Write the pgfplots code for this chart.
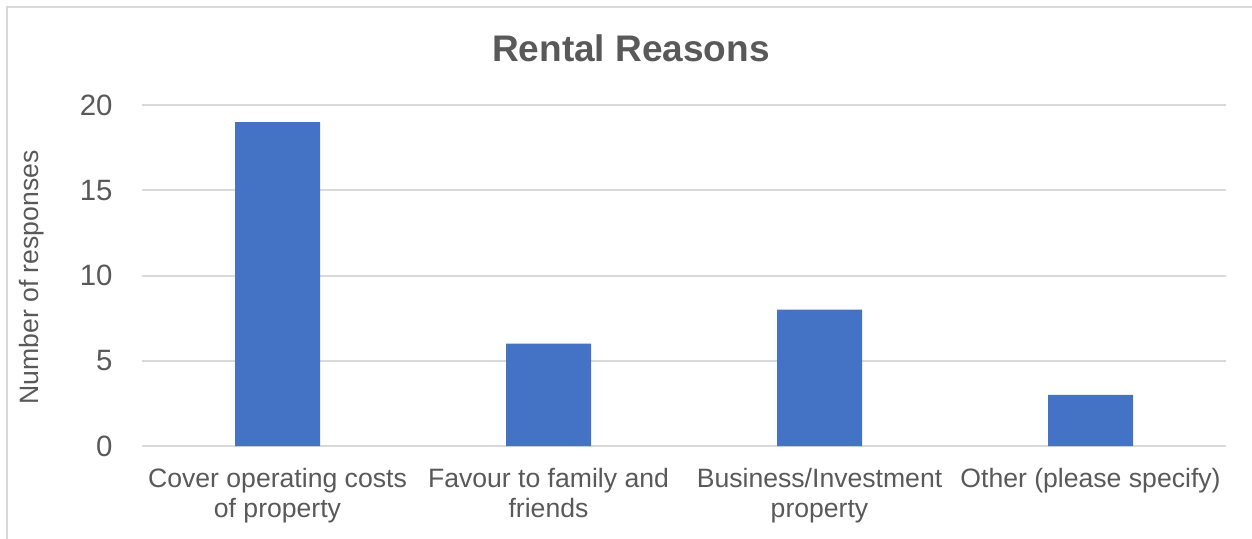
\documentclass[border=0pt]{standalone}
\usepackage{pgfplots}
\pgfplotsset{compat=1.18}
\usepackage{fontspec}
\setmainfont{Liberation Sans}
\definecolor{barblue}{HTML}{4472C4}
\definecolor{txt}{HTML}{595959}
\definecolor{gridc}{HTML}{D9D9D9}
\begin{document}
\begin{tikzpicture}
\useasboundingbox (0,0) rectangle (626pt,269pt);
\draw[gridc, line width=0.7pt] (3.5pt,-2pt) -- (3.5pt,265.5pt) -- (630pt,265.5pt);
\begin{axis}[
  at={(71pt,46pt)}, anchor=south west,
  scale only axis, width=542pt, height=170.5pt,
  ybar, bar width=42.5pt,
  xmin=-0.5, xmax=3.5, ymin=0, ymax=20,
  xtick={0,1,2,3},
  xticklabels={{Cover operating costs\\of property},{Favour to family and\\friends},{Business/Investment\\property},{Other (please specify)}},
  ytick={0,5,10,15,20},
  axis line style={draw=none},
  tick style={draw=none},
  ymajorgrids, grid style={gridc, line width=1pt},
  xticklabel style={align=center, font=\fontsize{13.3}{15}\selectfont, text=txt, inner sep=0pt, yshift=-6.5pt},
  yticklabel style={font=\fontsize{14.7}{16}\selectfont, text=txt, inner sep=0pt, xshift=-14.5pt},
  /pgf/number format/assume math mode=true,
]
\addplot[fill=barblue, draw=none] coordinates {(0,19) (1,6) (2,8) (3,3)};
\end{axis}
\node[text=txt, font=\fontsize{18.5}{20}\selectfont\bfseries] at (315.5pt,245pt) {Rental Reasons};
\node[text=txt, font=\fontsize{13.3}{15}\selectfont, rotate=90] at (16pt,130.25pt) {Number of responses};
\end{tikzpicture}
\end{document}
